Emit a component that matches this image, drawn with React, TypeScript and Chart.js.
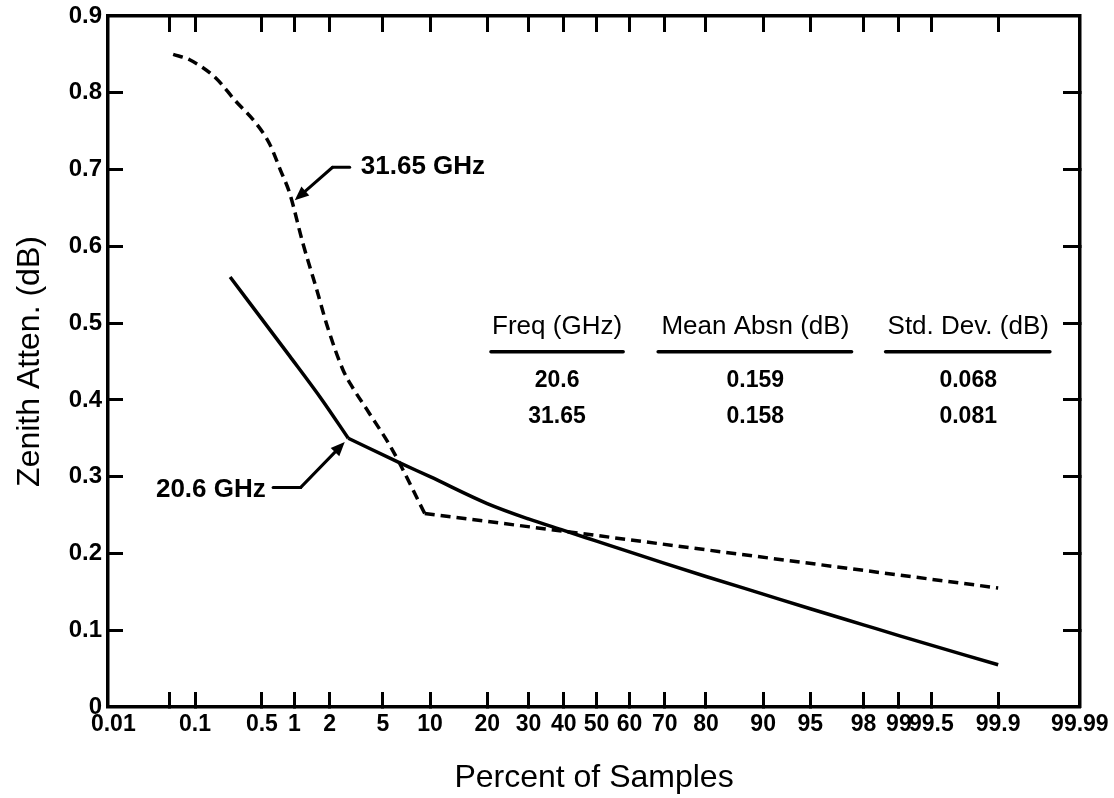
import React, { useEffect, useRef } from 'react';
import { Chart, registerables } from 'chart.js';

Chart.register(...registerables);

// ---------- data ----------
const tickPercents = [0.01, 0.05, 0.1, 0.5, 1, 2, 5, 10, 20, 30, 40, 50, 60, 70, 80, 90, 95, 98, 99, 99.5, 99.9, 99.99];
const tickLabels = ['0.01', '', '0.1', '0.5', '1', '2', '5', '10', '20', '30', '40', '50', '60', '70', '80', '90', '95', '98', '99', '99.5', '99.9', '99.99'];

// 31.65 GHz (dashed) - curved part, then straight tail from the knee
const pct31 = [0.056, 0.087, 0.17, 0.27, 0.44, 0.59, 0.75, 0.91, 1.19, 1.54, 1.92, 2.55, 3.0, 4.0, 5.8, 9.3, 40, 99.9];
const att31 = [0.850, 0.843, 0.819, 0.790, 0.760, 0.734, 0.699, 0.669, 0.604, 0.547, 0.495, 0.439, 0.417, 0.383, 0.335, 0.252, 0.229, 0.155];
const knee31 = 15; // index of the knee point

// 20.6 GHz (solid) - straight part, knee, then curved tail
const pct20 = [0.24, 0.91, 1.75, 2.8, 6.5, 10, 20, 30, 40, 50, 60, 70, 80, 90, 95, 98, 99, 99.9];
const att20 = [0.560, 0.457, 0.399, 0.350, 0.318, 0.300, 0.265, 0.245, 0.230, 0.216, 0.202, 0.187, 0.170, 0.147, 0.128, 0.107, 0.093, 0.055];
const knee20 = 3;

const tableHeaders = ['Freq (GHz)', 'Mean Absn (dB)', 'Std. Dev. (dB)'];
const tableRow1 = ['20.6', '0.159', '0.068'];
const tableRow2 = ['31.65', '0.158', '0.081'];

// ---------- probability-scale transform ----------
function probit(p: number): number {
  const a = [-3.969683028665376e1, 2.209460984245205e2, -2.759285104469687e2, 1.38357751867269e2, -3.066479806614716e1, 2.506628277459239];
  const b = [-5.447609879822406e1, 1.615858368580409e2, -1.556989798598866e2, 6.680131188771972e1, -1.328068155288572e1];
  const c = [-7.784894002430293e-3, -3.223964580411365e-1, -2.400758277161838, -2.549732539343734, 4.374664141464968, 2.938163982698783];
  const d = [7.784695709041462e-3, 3.224671290700398e-1, 2.445134137142996, 3.754408661907416];
  const pl = 0.02425;
  if (p < pl) {
    const q = Math.sqrt(-2 * Math.log(p));
    return (((((c[0] * q + c[1]) * q + c[2]) * q + c[3]) * q + c[4]) * q + c[5]) / ((((d[0] * q + d[1]) * q + d[2]) * q + d[3]) * q + 1);
  }
  if (p <= 1 - pl) {
    const q = p - 0.5;
    const r = q * q;
    return ((((((a[0] * r + a[1]) * r + a[2]) * r + a[3]) * r + a[4]) * r + a[5]) * q) / (((((b[0] * r + b[1]) * r + b[2]) * r + b[3]) * r + b[4]) * r + 1);
  }
  const q = Math.sqrt(-2 * Math.log(1 - p));
  return -(((((c[0] * q + c[1]) * q + c[2]) * q + c[3]) * q + c[4]) * q + c[5]) / ((((d[0] * q + d[1]) * q + d[2]) * q + d[3]) * q + 1);
}
const zOf = (pct: number) => probit(pct / 100);
const toPoints = (pcts: number[], vals: number[]) => pcts.map((p, i) => ({ x: zOf(p), y: vals[i] }));

const FONT = "'Liberation Sans', Arial, Helvetica, sans-serif";

// annotation anchors (percent, dB)
const label31 = { text: '31.65 GHz', textAt: [3.48, 0.703], elbowFrom: [2.11, 0.703], elbowTo: [2.87, 0.703], tip: [1.01, 0.660] };
const label20 = { text: '20.6 GHz', textAt: [0.545, 0.283], elbowFrom: [0.64, 0.286], elbowTo: [1.14, 0.286], tip: [2.63, 0.345] };

// table layout in chart-area fractions
const tableColX = [0.462, 0.666, 0.885];
const tableColSpan = [[0.394, 0.530], [0.566, 0.765], [0.800, 0.969]];
const tableRowY = { header: 0.450, rule: 0.486, row1: 0.527, row2: 0.580 };

function drawArrow(ctx: CanvasRenderingContext2D, x1: number, y1: number, x2: number, y2: number) {
  const ang = Math.atan2(y2 - y1, x2 - x1);
  const len = 14;
  const w = 6;
  const bx = x2 - len * Math.cos(ang);
  const by = y2 - len * Math.sin(ang);
  ctx.beginPath();
  ctx.moveTo(x1, y1);
  ctx.lineTo(bx, by);
  ctx.stroke();
  ctx.beginPath();
  ctx.moveTo(x2, y2);
  ctx.lineTo(bx + w * Math.sin(ang), by - w * Math.cos(ang));
  ctx.lineTo(bx - w * Math.sin(ang), by + w * Math.cos(ang));
  ctx.closePath();
  ctx.fill();
}

const annotationPlugin = {
  id: 'annotations',
  afterDraw(chart: any) {
    const { ctx, chartArea } = chart;
    const xs = chart.scales.x;
    const ys = chart.scales.y;
    const px = (p: number) => xs.getPixelForValue(zOf(p));
    const py = (v: number) => ys.getPixelForValue(v);
    ctx.save();
    ctx.fillStyle = '#000';
    ctx.strokeStyle = '#000';
    ctx.lineWidth = 3;
    ctx.lineCap = 'round';

    ctx.beginPath();
    ctx.moveTo(px(label31.elbowFrom[0]), py(label31.elbowFrom[1]));
    ctx.lineTo(px(label31.elbowTo[0]), py(label31.elbowTo[1]));
    ctx.stroke();
    drawArrow(ctx, px(label31.elbowFrom[0]), py(label31.elbowFrom[1]), px(label31.tip[0]), py(label31.tip[1]));
    ctx.font = `bold 26px ${FONT}`;
    ctx.textAlign = 'left';
    ctx.textBaseline = 'middle';
    ctx.fillText(label31.text, px(label31.textAt[0]), py(label31.textAt[1]));

    ctx.beginPath();
    ctx.moveTo(px(label20.elbowFrom[0]), py(label20.elbowFrom[1]));
    ctx.lineTo(px(label20.elbowTo[0]), py(label20.elbowTo[1]));
    ctx.stroke();
    drawArrow(ctx, px(label20.elbowTo[0]), py(label20.elbowTo[1]), px(label20.tip[0]), py(label20.tip[1]));
    ctx.textAlign = 'right';
    ctx.fillText(label20.text, px(label20.textAt[0]), py(label20.textAt[1]));

    const W = chartArea.right - chartArea.left;
    const H = chartArea.bottom - chartArea.top;
    const fx = (f: number) => chartArea.left + f * W;
    const fy = (f: number) => chartArea.top + f * H;
    ctx.textAlign = 'center';
    ctx.font = `26px ${FONT}`;
    tableHeaders.forEach((h, i) => ctx.fillText(h, fx(tableColX[i]), fy(tableRowY.header)));
    ctx.lineWidth = 3.5;
    tableColSpan.forEach(([a, b]) => {
      ctx.beginPath();
      ctx.moveTo(fx(a), fy(tableRowY.rule));
      ctx.lineTo(fx(b), fy(tableRowY.rule));
      ctx.stroke();
    });
    ctx.font = `bold 23px ${FONT}`;
    tableRow1.forEach((t, i) => ctx.fillText(t, fx(tableColX[i]), fy(tableRowY.row1)));
    tableRow2.forEach((t, i) => ctx.fillText(t, fx(tableColX[i]), fy(tableRowY.row2)));
    ctx.restore();
  },
};

const xTicksBuilder = (scale: any) => {
  scale.ticks = tickPercents.map((p) => ({ value: zOf(p) }));
};
const hideEdge = (ctx: any) => {
  const n = ctx.scale?.ticks?.length ?? 0;
  return ctx.index === 0 || ctx.index === n - 1 ? 'rgba(0,0,0,0)' : '#000';
};
const fixSize = (dim: 'width' | 'height', v: number) => (s: any) => {
  s[dim] = v;
  s.paddingTop = 0;
  s.paddingBottom = 0;
  s.paddingLeft = 0;
  s.paddingRight = 0;
};

const lineBase = { borderColor: '#000', borderWidth: 3.5, pointRadius: 0, fill: false };

export default function App() {
  const ref = useRef<HTMLCanvasElement | null>(null);
  useEffect(() => {
    if (!ref.current) return;
    const chart = new Chart(ref.current, {
      type: 'line',
      data: {
        datasets: [
          {
            ...lineBase,
            label: '31.65 GHz',
            data: toPoints(pct31.slice(0, knee31 + 1), att31.slice(0, knee31 + 1)),
            borderDash: [10, 6],
            cubicInterpolationMode: 'monotone',
          },
          {
            ...lineBase,
            label: '31.65 GHz tail',
            data: toPoints(pct31.slice(knee31), att31.slice(knee31)),
            borderDash: [10, 6],
            tension: 0,
          },
          {
            ...lineBase,
            label: '20.6 GHz',
            data: toPoints(pct20.slice(0, knee20 + 1), att20.slice(0, knee20 + 1)),
            cubicInterpolationMode: 'monotone',
            borderJoinStyle: 'round',
          },
          {
            ...lineBase,
            label: '20.6 GHz tail',
            data: toPoints(pct20.slice(knee20), att20.slice(knee20)),
            cubicInterpolationMode: 'monotone',
            borderJoinStyle: 'round',
          },
        ],
      },
      options: {
        animation: false,
        responsive: true,
        maintainAspectRatio: false,
        layout: { padding: { top: 16, left: 0, right: 0, bottom: 0 } },
        plugins: { legend: { display: false }, tooltip: { enabled: false } },
        scales: {
          x: {
            type: 'linear',
            position: 'bottom',
            min: -3.76,
            max: 3.72,
            afterBuildTicks: xTicksBuilder,
            afterFit: fixSize('height', 91),
            grid: { drawOnChartArea: false, tickLength: -15, tickWidth: 3, tickColor: hideEdge },
            border: { display: true, color: '#000', width: 3.5 },
            ticks: {
              autoSkip: false,
              maxRotation: 0,
              minRotation: 0,
              padding: 19,
              color: '#000',
              font: { family: FONT, size: 23, weight: 'bold' },
              callback: (_v: any, i: number) => tickLabels[i],
            },
            title: {
              display: true,
              text: 'Percent of Samples',
              color: '#000',
              font: { family: FONT, size: 32 },
              padding: { top: 0, bottom: 1 },
            },
          },
          x2: {
            type: 'linear',
            position: 'top',
            min: -3.76,
            max: 3.72,
            afterBuildTicks: xTicksBuilder,
            afterFit: fixSize('height', 0),
            grid: { drawOnChartArea: false, tickLength: -16, tickWidth: 3, tickColor: hideEdge },
            border: { display: true, color: '#000', width: 3.5 },
            ticks: { display: false },
          },
          y: {
            type: 'linear',
            position: 'left',
            min: 0,
            max: 0.9,
            afterFit: fixSize('width', 108),
            grid: { drawOnChartArea: false, tickLength: -15, tickWidth: 3, tickColor: hideEdge },
            border: { display: true, color: '#000', width: 3.5 },
            ticks: {
              stepSize: 0.1,
              padding: 21,
              color: '#000',
              font: { family: FONT, size: 24, weight: 'bold' },
              callback: (v: any) => (Math.abs(Number(v)) < 1e-9 ? '0' : Number(v).toFixed(1)),
            },
            title: {
              display: true,
              text: 'Zenith Atten. (dB)',
              color: '#000',
              font: { family: FONT, size: 32 },
              padding: { top: 11, bottom: 0 },
            },
          },
          y2: {
            type: 'linear',
            position: 'right',
            min: 0,
            max: 0.9,
            afterFit: fixSize('width', 34),
            grid: { drawOnChartArea: false, tickLength: -17, tickWidth: 3, tickColor: hideEdge },
            border: { display: true, color: '#000', width: 3.5 },
            ticks: { stepSize: 0.1, display: false },
          },
        },
      },
      plugins: [annotationPlugin],
    } as any);
    return () => chart.destroy();
  }, []);

  return (
    <div style={{ position: 'fixed', left: 0, top: 0, width: 1114, height: 798, background: '#fff' }}>
      <canvas ref={ref} />
    </div>
  );
}
